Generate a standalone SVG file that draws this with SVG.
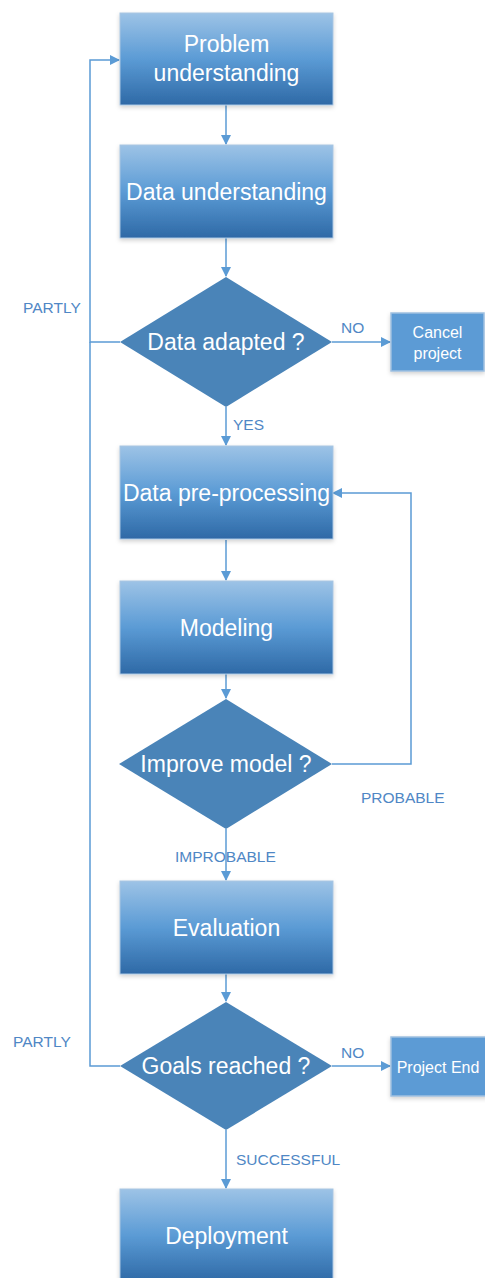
<svg xmlns="http://www.w3.org/2000/svg" width="485" height="1278" viewBox="0 0 485 1278">
<defs>
<linearGradient id="g" x1="0" y1="0" x2="0" y2="1">
<stop offset="0" stop-color="#9dc3e6"/>
<stop offset="0.5" stop-color="#5b9bd5"/>
<stop offset="1" stop-color="#2e69a6"/>
</linearGradient>
<filter id="sh" x="-10%" y="-10%" width="120%" height="125%">
<feDropShadow dx="0" dy="2" stdDeviation="2" flood-color="#000" flood-opacity="0.18"/>
</filter>
<marker id="ah" markerWidth="10" markerHeight="10" refX="9" refY="5" orient="auto" markerUnits="userSpaceOnUse">
<path d="M0,0 L10,5 L0,10 z" fill="#5b9bd5"/>
</marker>
</defs>
<style>
.box{fill:url(#g);stroke:#a9c5e2;stroke-width:1;filter:url(#sh)}
.dia{fill:#4a84b8}
.term{fill:#5b9bd5;stroke:#9fc0e0;stroke-width:1.5;filter:url(#sh)}
.t{font-family:"Liberation Sans",Arial,sans-serif;font-size:23px;fill:#fff;text-anchor:middle}
.ts{font-family:"Liberation Sans",Arial,sans-serif;font-size:16px;fill:#fff;text-anchor:middle}
.lbl{font-family:"Liberation Sans",Arial,sans-serif;font-size:15.5px;fill:#4f87c5}
.c{fill:none;stroke:#5b9bd5;stroke-width:1.5}
</style>
<g id="connectors">
<path class="c" d="M226,105 V144" marker-end="url(#ah)"/>
<path class="c" d="M226,238 V276" marker-end="url(#ah)"/>
<path class="c" d="M332,342 H390" marker-end="url(#ah)"/>
<path class="c" d="M226,407 V445" marker-end="url(#ah)"/>
<path class="c" d="M120,342 H90 V60 H119" marker-end="url(#ah)"/>
<path class="c" d="M226,540 V580" marker-end="url(#ah)"/>
<path class="c" d="M226,674 V698" marker-end="url(#ah)"/>
<path class="c" d="M332,764 H411 V493 H333" marker-end="url(#ah)"/>
<path class="c" d="M226,829 V880" marker-end="url(#ah)"/>
<path class="c" d="M226,974 V1001" marker-end="url(#ah)"/>
<path class="c" d="M332,1066 H390" marker-end="url(#ah)"/>
<path class="c" d="M226,1130 V1188" marker-end="url(#ah)"/>
<path class="c" d="M120,1066 H90 V342"/>
<text class="lbl" x="23" y="313">PARTLY</text>
<text class="lbl" x="341" y="333">NO</text>
<text class="lbl" x="233" y="430">YES</text>
<text class="lbl" x="361" y="803">PROBABLE</text>
<text class="lbl" x="175" y="862">IMPROBABLE</text>
<text class="lbl" x="13" y="1047">PARTLY</text>
<text class="lbl" x="341" y="1058">NO</text>
<text class="lbl" x="236" y="1165">SUCCESSFUL</text>
</g>
<g id="problem">
<rect class="box" x="120" y="13" width="213" height="92"/>
<text class="t" x="226.5" y="52">Problem</text>
<text class="t" x="226.5" y="81">understanding</text>
</g>
<g id="data-understanding">
<rect class="box" x="120" y="145" width="213" height="93"/>
<text class="t" x="226.5" y="200">Data understanding</text>
</g>
<g id="data-adapted">
<polygon class="dia" points="226,277 332,342 226,407 120,342"/>
<text class="t" x="226" y="350">Data adapted ?</text>
</g>
<g id="cancel">
<rect class="term" x="391" y="313" width="93" height="58"/>
<text class="ts" x="437.5" y="338">Cancel</text>
<text class="ts" x="437.5" y="359">project</text>
</g>
<g id="preprocessing">
<rect class="box" x="120" y="446" width="213" height="93"/>
<text class="t" x="226.5" y="501">Data pre-processing</text>
</g>
<g id="modeling">
<rect class="box" x="120" y="581" width="213" height="93"/>
<text class="t" x="226.5" y="636">Modeling</text>
</g>
<g id="improve">
<polygon class="dia" points="226,699 332,764 226,829 119,764"/>
<text class="t" x="226" y="772">Improve model ?</text>
</g>
<g id="evaluation">
<rect class="box" x="120" y="881" width="213" height="93"/>
<text class="t" x="226.5" y="936">Evaluation</text>
</g>
<g id="goals">
<polygon class="dia" points="226,1002 332,1066 226,1130 120,1066"/>
<text class="t" x="226" y="1074">Goals reached ?</text>
</g>
<g id="project-end">
<rect class="term" x="391" y="1037" width="96" height="59"/>
<text class="ts" x="438" y="1073">Project End</text>
</g>
<g id="deployment">
<rect class="box" x="120" y="1189" width="213" height="93"/>
<text class="t" x="226.5" y="1244">Deployment</text>
</g>
</svg>
